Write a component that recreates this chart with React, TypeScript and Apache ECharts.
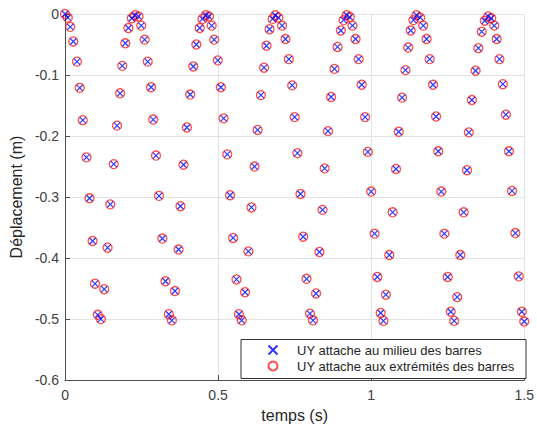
import React, { useEffect, useRef } from "react";
import * as echarts from "echarts";

const temps = [
  0.000, 0.009, 0.017, 0.027, 0.039, 0.048, 0.058, 0.070, 0.080, 0.090,
  0.098, 0.107, 0.117, 0.128, 0.139, 0.148, 0.159, 0.170, 0.180, 0.187,
  0.197, 0.207, 0.218, 0.229, 0.240, 0.249, 0.260, 0.270, 0.281, 0.288,
  0.297, 0.307, 0.318, 0.328, 0.339, 0.349, 0.359, 0.371, 0.377, 0.387,
  0.398, 0.409, 0.419, 0.429, 0.440, 0.449, 0.460, 0.470, 0.479, 0.487,
  0.499, 0.509, 0.518, 0.530, 0.539, 0.549, 0.560, 0.568, 0.577, 0.588,
  0.599, 0.609, 0.619, 0.629, 0.640, 0.650, 0.658, 0.668, 0.678, 0.687,
  0.697, 0.709, 0.720, 0.731, 0.742, 0.750, 0.759, 0.769, 0.778, 0.789,
  0.800, 0.810, 0.820, 0.831, 0.841, 0.848, 0.859, 0.869, 0.880, 0.890,
  0.901, 0.910, 0.920, 0.930, 0.939, 0.949, 0.959, 0.969, 0.980, 0.989,
  1.000, 1.011, 1.020, 1.031, 1.040, 1.048, 1.059, 1.070, 1.081, 1.090,
  1.101, 1.112, 1.121, 1.129, 1.138, 1.148, 1.160, 1.170, 1.181, 1.191,
  1.202, 1.212, 1.219, 1.229, 1.239, 1.250, 1.260, 1.271, 1.281, 1.291,
  1.302, 1.313, 1.319, 1.329, 1.341, 1.350, 1.361, 1.371, 1.382, 1.392,
  1.402, 1.410, 1.419, 1.430, 1.440, 1.450, 1.460, 1.471, 1.482, 1.492,
  1.500,
];

const uyMilieu = [
  0.000, -0.006, -0.021, -0.045, -0.078, -0.121, -0.174, -0.235, -0.302, -0.372,
  -0.442, -0.493, -0.500, -0.451, -0.383, -0.312, -0.246, -0.183, -0.130, -0.085,
  -0.048, -0.023, -0.007, -0.002, -0.004, -0.019, -0.042, -0.078, -0.120, -0.173,
  -0.232, -0.298, -0.368, -0.438, -0.492, -0.502, -0.454, -0.386, -0.315, -0.247,
  -0.186, -0.132, -0.086, -0.050, -0.023, -0.008, -0.002, -0.004, -0.019, -0.042,
  -0.076, -0.120, -0.171, -0.230, -0.297, -0.367, -0.435, -0.492, -0.502, -0.456,
  -0.389, -0.317, -0.250, -0.190, -0.133, -0.088, -0.052, -0.025, -0.008, -0.002,
  -0.006, -0.019, -0.041, -0.074, -0.117, -0.169, -0.228, -0.295, -0.365, -0.434,
  -0.491, -0.502, -0.458, -0.390, -0.321, -0.253, -0.192, -0.136, -0.090, -0.054,
  -0.027, -0.010, -0.002, -0.005, -0.019, -0.041, -0.074, -0.116, -0.169, -0.226,
  -0.291, -0.360, -0.431, -0.490, -0.503, -0.460, -0.395, -0.325, -0.254, -0.193,
  -0.137, -0.092, -0.055, -0.027, -0.010, -0.002, -0.006, -0.019, -0.041, -0.074,
  -0.116, -0.168, -0.225, -0.291, -0.360, -0.431, -0.488, -0.503, -0.464, -0.395,
  -0.325, -0.256, -0.194, -0.141, -0.093, -0.056, -0.029, -0.011, -0.004, -0.007,
  -0.019, -0.041, -0.074, -0.115, -0.165, -0.225, -0.290, -0.359, -0.430, -0.488,
  -0.504,
];

const uyExtremites = [
  0.000, -0.006, -0.021, -0.045, -0.078, -0.121, -0.174, -0.235, -0.302, -0.372,
  -0.442, -0.493, -0.500, -0.451, -0.383, -0.312, -0.246, -0.183, -0.130, -0.085,
  -0.048, -0.023, -0.007, -0.002, -0.004, -0.019, -0.042, -0.078, -0.120, -0.173,
  -0.232, -0.298, -0.368, -0.438, -0.492, -0.502, -0.454, -0.386, -0.315, -0.247,
  -0.186, -0.132, -0.086, -0.050, -0.023, -0.008, -0.002, -0.004, -0.019, -0.042,
  -0.076, -0.120, -0.171, -0.230, -0.297, -0.367, -0.435, -0.492, -0.502, -0.456,
  -0.389, -0.317, -0.250, -0.190, -0.133, -0.088, -0.052, -0.025, -0.008, -0.002,
  -0.006, -0.019, -0.041, -0.074, -0.117, -0.169, -0.228, -0.295, -0.365, -0.434,
  -0.491, -0.502, -0.458, -0.390, -0.321, -0.253, -0.192, -0.136, -0.090, -0.054,
  -0.027, -0.010, -0.002, -0.005, -0.019, -0.041, -0.074, -0.116, -0.169, -0.226,
  -0.291, -0.360, -0.431, -0.490, -0.503, -0.460, -0.395, -0.325, -0.254, -0.193,
  -0.137, -0.092, -0.055, -0.027, -0.010, -0.002, -0.006, -0.019, -0.041, -0.074,
  -0.116, -0.168, -0.225, -0.291, -0.360, -0.431, -0.488, -0.503, -0.464, -0.395,
  -0.325, -0.256, -0.194, -0.141, -0.093, -0.056, -0.029, -0.011, -0.004, -0.007,
  -0.019, -0.041, -0.074, -0.115, -0.165, -0.225, -0.290, -0.359, -0.430, -0.488,
  -0.504,
];

const nomMilieu = "UY attache au milieu des barres";
const nomExtremites = "UY attache aux extrémités des barres";
const xTicks = [0, 0.5, 1, 1.5];
const yTicks = [-0.6, -0.5, -0.4, -0.3, -0.2, -0.1, 0];

export default function App() {
  const ref = useRef<HTMLDivElement>(null);

  useEffect(() => {
    document.body.style.margin = "0";
    if (!ref.current) return;
    const chart = echarts.init(ref.current, null, { renderer: "svg" });
    const font = "Liberation Sans, Arial, Helvetica, sans-serif";
    const axisColor = "#4d4d4d";
    const textColor = "#404040";
    const gridColor = "#e3e3e3";

    chart.setOption({
      animation: false,
      backgroundColor: "#ffffff",
      textStyle: { fontFamily: font },
      grid: { left: 61, right: 11, top: 14, bottom: 46, containLabel: false },
      xAxis: {
        type: "value",
        min: xTicks[0],
        max: xTicks[xTicks.length - 1],
        interval: 0.5,
        name: "temps (s)",
        nameLocation: "middle",
        nameGap: 26,
        nameTextStyle: { fontSize: 16, color: "#262626", fontFamily: font },
        axisLine: { show: true, onZero: false, lineStyle: { color: axisColor, width: 1 } },
        axisTick: { show: true, inside: true, length: 5, lineStyle: { color: axisColor } },
        axisLabel: {
          fontSize: 14,
          color: textColor,
          margin: 8,
          fontFamily: font,
          formatter: (v: number) => String(v),
        },
        splitLine: { show: true, lineStyle: { color: gridColor, width: 1 } },
      },
      yAxis: {
        type: "value",
        min: yTicks[0],
        max: yTicks[yTicks.length - 1],
        interval: 0.1,
        name: "Déplacement (m)",
        nameLocation: "middle",
        nameRotate: 90,
        nameGap: 36,
        nameTextStyle: { fontSize: 16, color: "#262626", fontFamily: font },
        axisLine: { show: true, onZero: false, lineStyle: { color: axisColor, width: 1 } },
        axisTick: { show: true, inside: true, length: 5, lineStyle: { color: axisColor } },
        axisLabel: {
          fontSize: 14,
          color: textColor,
          margin: 6,
          fontFamily: font,
          formatter: (v: number) => (Math.abs(v) < 1e-9 ? "0" : String(Math.round(v * 10) / 10)),
        },
        splitLine: { show: true, lineStyle: { color: gridColor, width: 1 } },
      },
      legend: {
        orient: "vertical",
        left: 267.5,
        top: 343,
        padding: 0,
        itemWidth: 38,
        itemHeight: 9,
        itemGap: 2,
        z: 5,
        textStyle: { fontSize: 13, color: "#262626", fontFamily: font, lineHeight: 14 },
        data: [nomMilieu, nomExtremites],
      },
      graphic: [
        {
          type: "rect",
          z: 4,
          zlevel: 0,
          shape: { x: 241, y: 339.5, width: 285, height: 39 },
          style: { fill: "#ffffff", stroke: "#333333", lineWidth: 1 },
        },
      ],
      series: [
        {
          name: nomMilieu,
          type: "scatter",
          clip: false,
          symbol: "path://M0,0L10,10M10,0L0,10",
          symbolSize: 6,
          itemStyle: { color: "rgba(0,0,0,0)", borderColor: "#0000ff", borderWidth: 1.2 },
          data: temps.map((t, i) => [t, uyMilieu[i]]),
          z: 3,
        },
        {
          name: nomExtremites,
          type: "scatter",
          clip: false,
          symbol: "circle",
          symbolSize: 9,
          itemStyle: { color: "rgba(0,0,0,0)", borderColor: "#ff2020", borderWidth: 1.3 },
          data: temps.map((t, i) => [t, uyExtremites[i]]),
          z: 2,
        },
      ],
    });

    return () => chart.dispose();
  }, []);

  return <div ref={ref} style={{ width: 537, height: 428 }} />;
}
